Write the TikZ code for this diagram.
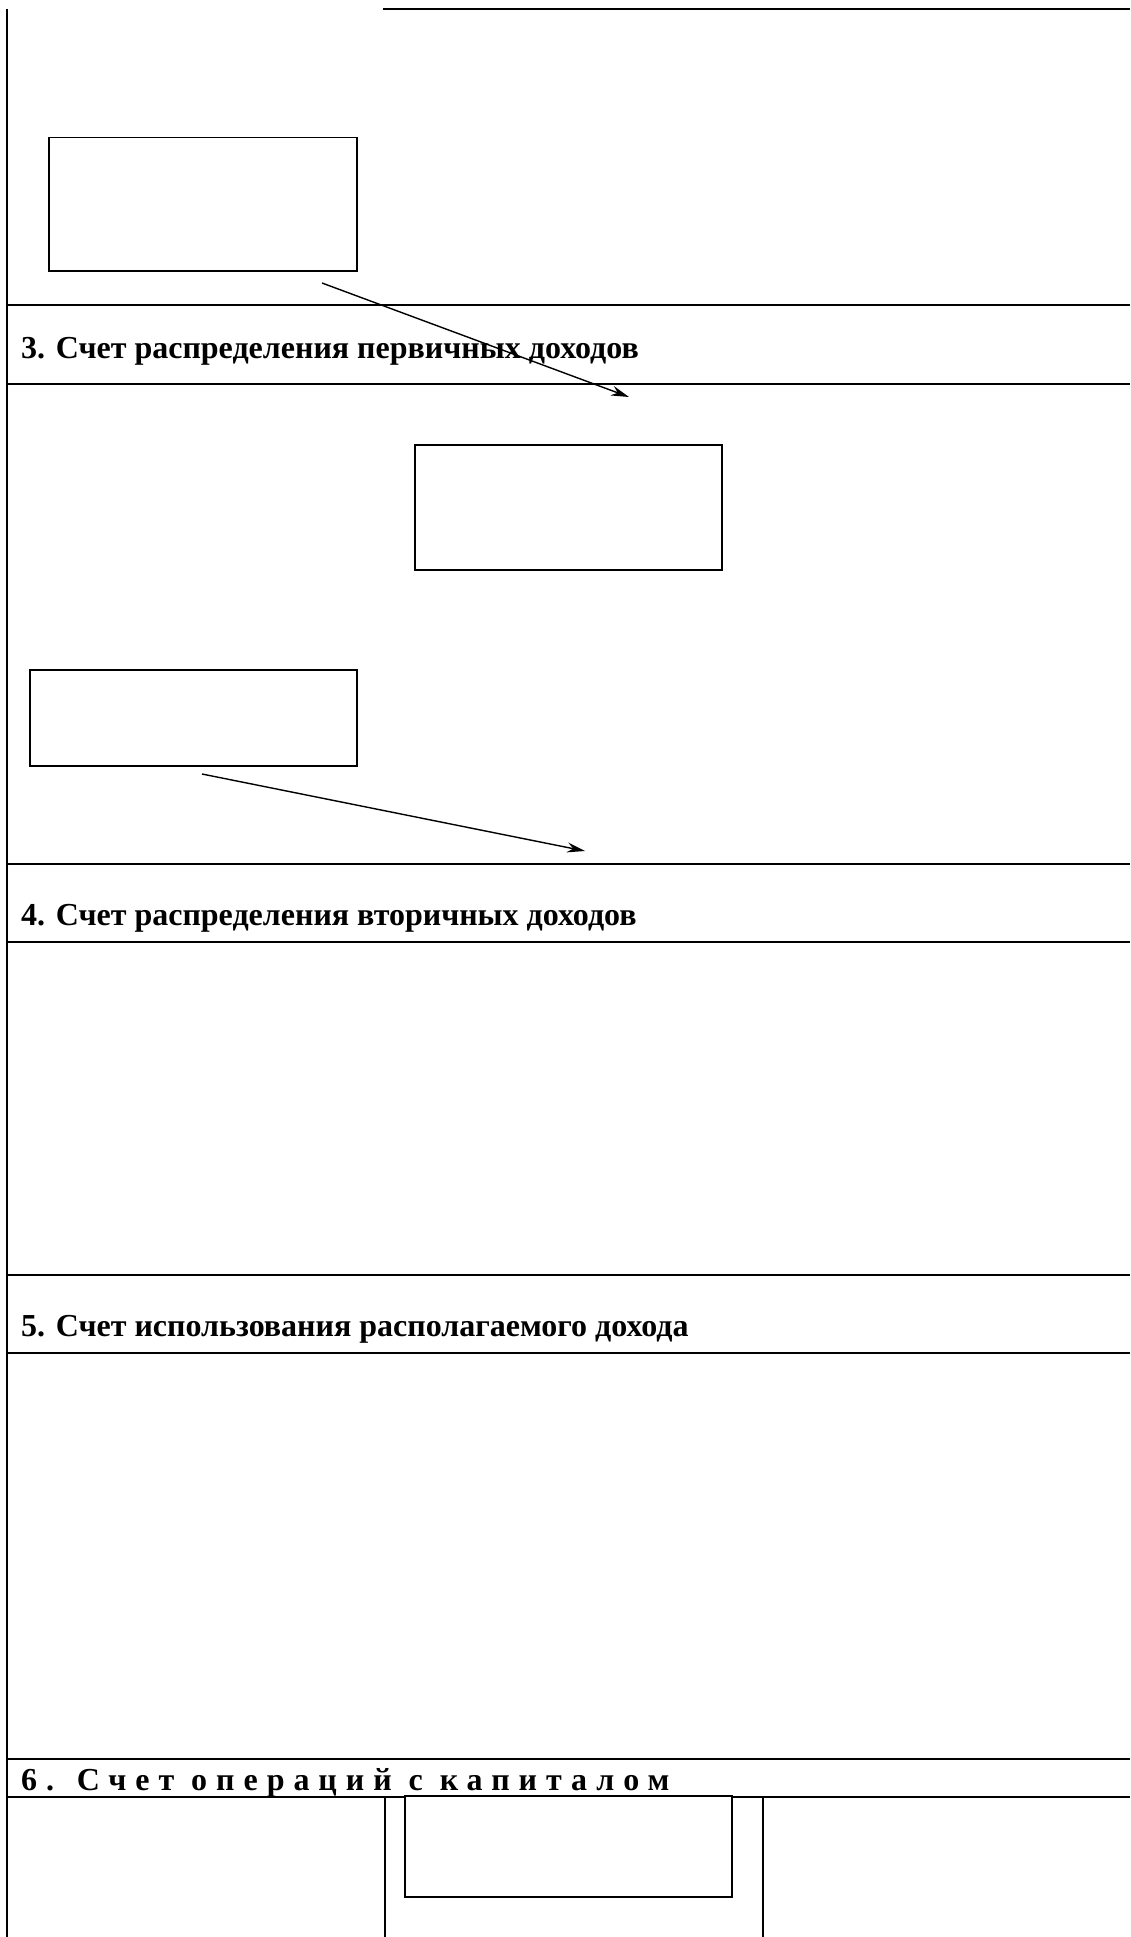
\documentclass[tikz,border=0pt]{standalone}
\usepackage{fontspec}
\setmainfont{Liberation Serif}
\usetikzlibrary{arrows.meta}
\begin{document}
\begin{tikzpicture}[x=1pt, y=-1pt,
        cadre/.style={draw, fill=white, line width=1.5pt, inner sep=0pt, anchor=north west},
        trait/.style={line width=2.2pt},
        fleche/.style={line width=1.4pt, -{Stealth[length=18pt, width=10pt, inset=6pt]}},
        titre/.style={anchor=base west, inner sep=0pt, font=\fontsize{32}{37}\selectfont\bfseries},
        titreespace/.style={anchor=base west, inner sep=0pt, font=\fontsize{32}{37}\selectfont\bfseries\addfontfeature{LetterSpace=28}}]
        \useasboundingbox (0,0) rectangle (1130,1937);
        % Cadre
        \draw[trait] (383,9) -- (1130,9);
        \draw[trait] (7,9) -- (7,1937);
        % Lignes des comptes
        \foreach \y in {305, 384, 864, 942, 1275, 1353, 1759, 1797} {
            \draw[trait] (7,\y) -- (1130,\y);
        }
        \foreach \x in {385, 763} {
            \draw[trait] (\x,1797) -- (\x,1937);
        }
        % Titres
        \node[titre] (titre3) at (21,358) {3. Счет распределения первичных доходов};
        \node[titre] (titre4) at (21,925) {4. Счет распределения вторичных доходов};
        \node[titre] (titre5) at (21,1336) {5. Счет использования располагаемого дохода};
        \node[titreespace] (titre6) at (21,1790) {6. Счет операций с капиталом};
        % Blocs
        \node[cadre, minimum width=308pt, minimum height=133pt] (bloc1) at (48,137) {};
        \node[cadre, minimum width=307pt, minimum height=125pt] (bloc2) at (414,444) {};
        \node[cadre, minimum width=327pt, minimum height=96pt] (bloc3) at (29,669) {};
        \node[cadre, minimum width=327pt, minimum height=101pt] (bloc4) at (404,1795) {};
        % Fleches
        \coordinate (depart1) at (322,283);
        \coordinate (arrivee1) at (629,397);
        \coordinate (depart2) at (202,774);
        \coordinate (arrivee2) at (585,851);
        \draw[fleche] (depart1) -- (arrivee1);
        \draw[fleche] (depart2) -- (arrivee2);
    \end{tikzpicture}
\end{document}
